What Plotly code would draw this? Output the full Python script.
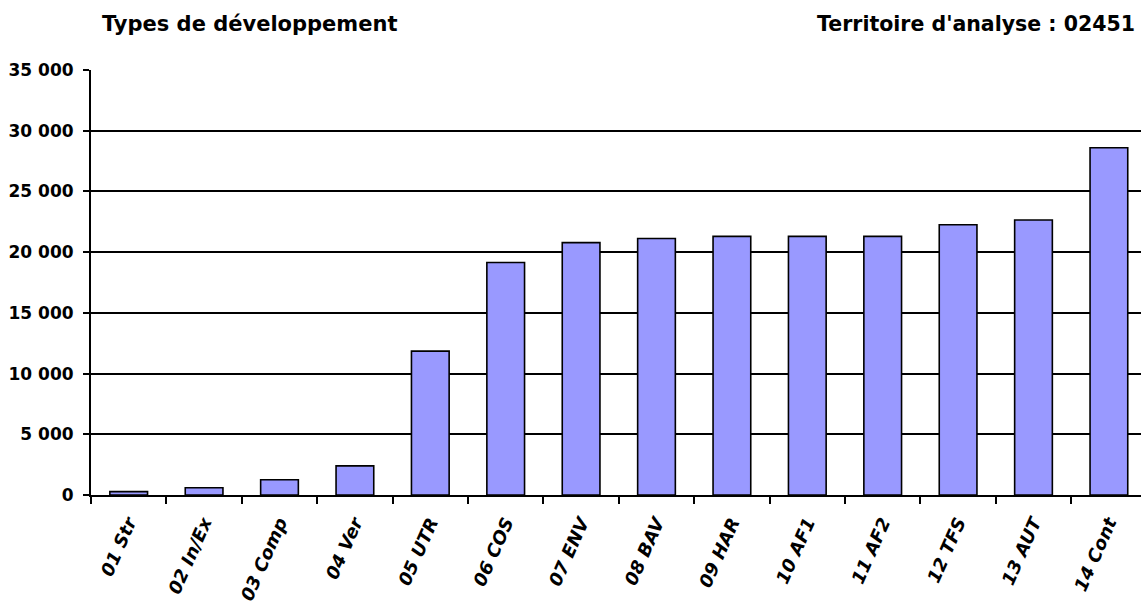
import plotly.graph_objects as go

categories = ["01 Str", "02 In/Ex", "03 Comp", "04 Ver", "05 UTR", "06 COS", "07 ENV",
              "08 BAV", "09 HAR", "10 AF1", "11 AF2", "12 TFS", "13 AUT", "14 Cont"]
values = [280, 600, 1250, 2400, 11850, 19150, 20780, 21120, 21300, 21300, 21300, 22250, 22650, 28600]
y_tickvals = [0, 5000, 10000, 15000, 20000, 25000, 30000, 35000]
y_ticktext = ["0", "5 000", "10 000", "15 000", "20 000", "25 000", "30 000", "35 000"]
title_left = "Types de développement"
title_right = "Territoire d'analyse : 02451"

W, H = 1141, 603
ML, MR, MT, MB = 91, 0, 70, 108
cat_px = 75.4
plot_w = W - ML - MR

fig = go.Figure(go.Bar(
    x=categories, y=values, width=0.5,
    marker=dict(color="#9999FF", line=dict(color="black", width=1.6)),
))

font_family = "DejaVu Sans"

fig.update_layout(
    width=W, height=H, autosize=False,
    margin=dict(l=ML, r=MR, t=MT, b=MB, pad=0),
    paper_bgcolor="white", plot_bgcolor="white",
    showlegend=False, bargap=0.5,
    font=dict(family=font_family, color="black"),
    annotations=[
        dict(text=title_left, xref="paper", yref="paper", x=(100 - ML) / plot_w,
             y=(495 - 24) / 425, xanchor="left", yanchor="middle", showarrow=False,
             font=dict(family=font_family, size=21, weight="bold", color="black")),
        dict(text=title_right, xref="paper", yref="paper", x=(1137 - ML) / plot_w,
             y=(495 - 24) / 425, xanchor="right", yanchor="middle", showarrow=False,
             font=dict(family=font_family, size=20.5, weight="bold", color="black")),
    ],
)

fig.update_xaxes(
    type="category",
    range=[-0.5, -0.5 + plot_w / cat_px],
    tickson="boundaries", ticks="outside", ticklen=7, tickwidth=1.5, tickcolor="black",
    showline=True, linecolor="black", linewidth=2,
    showgrid=False, tickangle=-66, ticklabelstandoff=8,
    tickfont=dict(family=font_family, size=18, weight="bold", style="italic", color="black"),
    fixedrange=True,
)
fig.update_yaxes(
    range=[0, 35000], tickvals=y_tickvals, ticktext=y_ticktext,
    ticks="outside", ticklen=6, tickwidth=1.5, tickcolor="black",
    showline=True, linecolor="black", linewidth=2,
    showgrid=True, gridcolor="black", gridwidth=1.5,
    zeroline=False, ticklabelstandoff=6,
    tickfont=dict(family=font_family, size=17, weight="bold", color="black"),
    fixedrange=True,
)

fig.write_html("out.html", config={"displayModeBar": False},
               post_script="document.body.style.margin='0';document.body.style.overflow='hidden';")
